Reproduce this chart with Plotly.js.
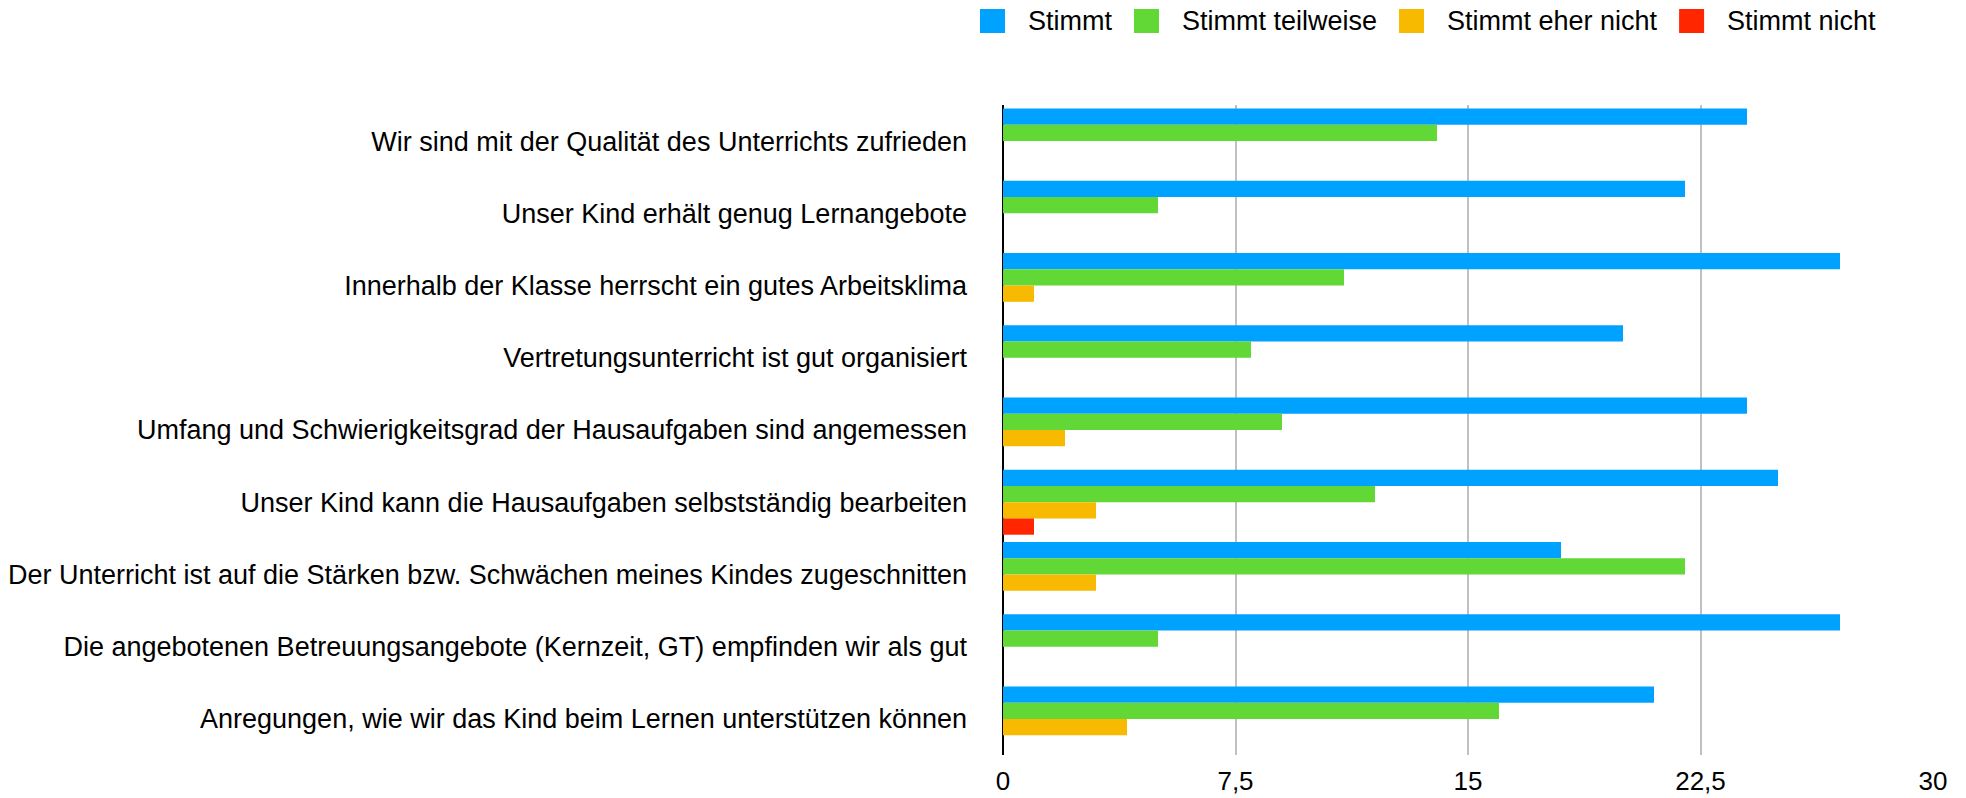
<!DOCTYPE html>
<html>
<head>
<meta charset="utf-8">
<script src="https://cdn.plot.ly/plotly-3.0.1.min.js"></script>
<style>html,body{margin:0;padding:0;background:#fff;}#chart{width:1966px;height:798px;}</style>
</head>
<body>
<div id="chart"></div>
<script>
const categories = [
  "Wir sind mit der Qualität des Unterrichts zufrieden",
  "Unser Kind erhält genug Lernangebote",
  "Innerhalb der Klasse herrscht ein gutes Arbeitsklima",
  "Vertretungsunterricht ist gut organisiert",
  "Umfang und Schwierigkeitsgrad der Hausaufgaben sind angemessen",
  "Unser Kind kann die Hausaufgaben selbstständig bearbeiten",
  "Der Unterricht ist auf die Stärken bzw. Schwächen meines Kindes zugeschnitten",
  "Die angebotenen Betreuungsangebote (Kernzeit, GT) empfinden wir als gut",
  "Anregungen, wie wir das Kind beim Lernen unterstützen können"
];
const seriesNames = ["Stimmt", "Stimmt teilweise", "Stimmt eher nicht", "Stimmt nicht"];
const stimmt          = [24, 22, 27, 20, 24, 25, 18, 27, 21];
const stimmtTeilweise = [14, 5, 11, 8, 9, 12, 22, 5, 16];
const stimmtEherNicht = [0, 0, 1, 0, 2, 3, 3, 0, 4];
const stimmtNicht     = [0, 0, 0, 0, 0, 1, 0, 0, 0];
const tickValues = [0, 7.5, 15, 22.5, 30];

const colors = ["#00A2FF", "#61D836", "#F8BA00", "#FF2600"];
const seriesValues = [stimmt, stimmtTeilweise, stimmtEherNicht, stimmtNicht];

const traces = seriesValues.map((vals, i) => ({
  type: "bar",
  orientation: "h",
  name: seriesNames[i],
  x: vals,
  y: categories,
  marker: {color: colors[i], line: {width: 0}},
  hoverinfo: "x+name",
  showlegend: false
}));

const font = "'Liberation Sans', Arial, Helvetica, sans-serif";
const W = 1966, H = 798;
const M = {l: 1003, r: 33, t: 105, b: 43};
const plotW = W - M.l - M.r, plotH = H - M.t - M.b;
const px2x = px => (px - M.l) / plotW;
const px2y = py => (H - M.b - py) / plotH;

// Legend drawn as shapes + annotations (square swatches like the original)
const legendFontSize = 27;
const ctx = document.createElement("canvas").getContext("2d");
ctx.font = legendFontSize + "px 'Liberation Sans'";
const sw = 25, sh = 24, swatchToText = 21, itemGap = 24;
const legendTop = 9, legendMid = legendTop + sh / 2;
let cursor = 980;
const legendShapes = [], legendAnnots = [];
seriesNames.forEach((name, i) => {
  legendShapes.push({
    type: "rect", xref: "paper", yref: "paper", layer: "above",
    x0: px2x(cursor), x1: px2x(cursor + sw),
    y0: px2y(legendTop + sh), y1: px2y(legendTop),
    fillcolor: colors[i], line: {width: 0}
  });
  const tx = cursor + sw + swatchToText;
  legendAnnots.push({
    xref: "paper", yref: "paper", x: px2x(tx), y: px2y(legendMid),
    xanchor: "left", yanchor: "middle", showarrow: false,
    text: name, font: {family: font, size: legendFontSize, color: "#000"}
  });
  cursor = tx + ctx.measureText(name).width + itemGap;
});

const layout = {
  width: W,
  height: H,
  margin: M,
  paper_bgcolor: "#fff",
  plot_bgcolor: "#fff",
  barmode: "group",
  bargap: 0.1,
  bargroupgap: 0,
  separators: ",.",
  font: {family: font, size: 27, color: "#000"},
  showlegend: false,
  shapes: legendShapes,
  annotations: legendAnnots,
  xaxis: {
    range: [0, 30],
    tickvals: tickValues,
    ticktext: tickValues.map(v => String(v).replace(".", ",")),
    showgrid: true,
    gridcolor: "#c0c0c0",
    gridwidth: 2,
    zeroline: true,
    zerolinecolor: "#000",
    zerolinewidth: 2,
    showline: false,
    ticks: "",
    ticklabelstandoff: 8,
    tickfont: {family: font, size: 26, color: "#000"},
    fixedrange: true
  },
  yaxis: {
    autorange: "reversed",
    type: "category",
    showgrid: false,
    zeroline: false,
    showline: false,
    ticks: "",
    ticklabelstandoff: 35,
    tickfont: {family: font, size: 27, color: "#000"},
    fixedrange: true
  }
};

Plotly.newPlot("chart", traces, layout, {displayModeBar: false});
</script>
</body>
</html>
